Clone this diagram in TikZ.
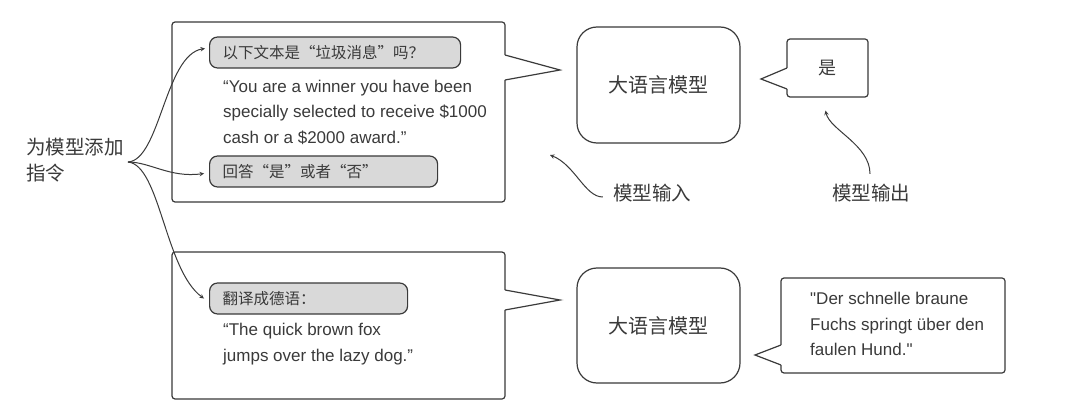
\documentclass[tikz,border=0pt]{standalone}
\usepackage{fontspec}
\setmainfont{Liberation Sans}
\newfontfamily\latin{Liberation Sans}
\newfontfamily\cjk{Noto Sans CJK SC}
\usepackage{xcolor}
\usepackage{tikz}
\usetikzlibrary{arrows, calc}
\definecolor{inkgray}{HTML}{3A3A3A}
\definecolor{pillgray}{HTML}{D9D9D9}

\begin{document}
\begin{tikzpicture}[x=1pt, y=-1pt, inner sep=0pt, color=inkgray]
        \tikzstyle{bubble} = [rectangle, draw=inkgray, line width=1.2pt, rounded corners=3pt, fill=white]
        \tikzstyle{pill} = [rectangle, draw=inkgray, fill=pillgray, line width=1.2pt, rounded corners=8pt, minimum height=31pt, inner xsep=13pt, align=left, font=\cjk\fontsize{15.5}{18}\selectfont]
        \tikzstyle{llm} = [rectangle, draw=inkgray, line width=1.2pt, rounded corners=20pt, minimum width=163pt, font=\cjk\fontsize{20}{24}\selectfont]
        \tikzstyle{quote} = [align=left, font=\latin\fontsize{17}{25.5}\selectfont]
        \tikzstyle{note} = [align=left, font=\cjk\fontsize{19.5}{26}\selectfont]
        \tikzstyle{beak} = [draw=inkgray, line width=1.2pt, line join=miter]
        \tikzstyle{line} = [draw=inkgray, -stealth, line width=1pt]

        \fill [white] (0,0) rectangle (1080,417);

        % Top row: spam question
        \node [bubble, minimum width=333pt, minimum height=180pt] (in1) at (338.5,112) {};
        \node [pill, text width=225pt, anchor=west] (ask) at (209,52.5) {以下文本是“垃圾消息”吗？};
        \node [quote, anchor=west] (spam) at (223,112) {“You are a winner you have been\\specially selected to receive \$1000\\cash or a \$2000 award.”};
        \node [pill, text width=202pt, anchor=west] (answer) at (209,171.5) {回答“是”或者“否”};
        \node [llm, minimum height=116pt] (model1) at (658.5,85) {大语言模型};
        \node [bubble, minimum width=81pt, minimum height=58pt, font=\cjk\fontsize{18}{20}\selectfont] (yes) at (827.5,68) {是};

        % Bottom row: translation
        \node [bubble, minimum width=333pt, minimum height=147pt] (in2) at (338.5,325.5) {};
        \node [pill, text width=172pt, anchor=west] (translate) at (209,298.5) {翻译成德语：};
        \node [quote, anchor=west] (fox) at (223,344) {“The quick brown fox\\jumps over the lazy dog.”};
        \node [llm, minimum height=115pt] (model2) at (658.5,325.5) {大语言模型};
        \node [bubble, minimum width=224pt, minimum height=95pt] (german) at (893,325.5) {};
        \node [quote, anchor=west] (hund) at (810,324) {"Der schnelle braune\\Fuchs springt über den\\faulen Hund."};

        % Bubble pointers
        \fill [white] (504,55) rectangle (506.5,80);
        \draw [beak] (505,55) -- (560,70) -- (505,80);
        \fill [white] (504,290) rectangle (506.5,310);
        \draw [beak] (505,290) -- (560,300) -- (505,310);
        \fill [white] (785.5,68) rectangle (788,89);
        \draw [beak] (787,68) -- (761,79) -- (787,89);
        \fill [white] (779.5,345) rectangle (782,365);
        \draw [beak] (781,345) -- (755,355) -- (781,365);

        % Labels
        \node [note, anchor=west] (instr) at (26,160) {为模型添加\\指令};
        \node [note] (inlabel) at (652,193) {模型输入};
        \node [note] (outlabel) at (871,193) {模型输出};
        \coordinate (fork) at (128,162);
        \coordinate (inpoint) at (550,155);

        % Paths
        \draw [line] (fork) .. controls (160,160) and (165,55) .. ([xshift=-4pt,yshift=4pt]ask.west);
        \draw [line] (fork) .. controls (150,162) and (170,178) .. ([xshift=-5pt,yshift=-2pt]answer.west);
        \draw [line] (fork) .. controls (160,165) and (165,270) .. ([xshift=-5pt]translate.west);
        \draw [line] ([xshift=-10pt,yshift=-4pt]inlabel.west) .. controls (585,197) and (575,165) .. (inpoint);
        \draw [line] ([xshift=-1pt,yshift=10pt]outlabel.north) .. controls (870,145) and (830,130) .. ([xshift=-2pt,yshift=-13pt]yes.south);
    \end{tikzpicture}
\end{document}
